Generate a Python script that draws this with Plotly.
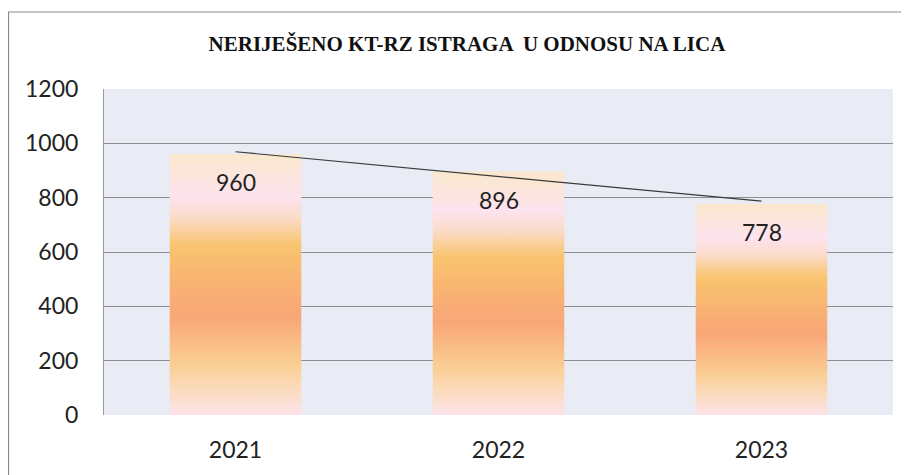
import numpy as np
import plotly.graph_objects as go

title_text = "NERIJEŠENO KT-RZ ISTRAGA  U ODNOSU NA LICA"
years = ["2021", "2022", "2023"]
values = [960, 896, 778]
y_ticks = [0, 200, 400, 600, 800, 1000, 1200]

# page has an 8px body margin, so figure is 8px smaller than the window
W, H = 901, 467
ML, MR, MT, MB = 96, 16, 81, 60
pw, ph = W - ML - MR, H - MT - MB

grad = [
    [0.0, "#FDE3EA"],
    [0.12, "#FBD9B4"],
    [0.2, "#FACD92"],
    [0.38, "#F9A677"],
    [0.52, "#F9B472"],
    [0.65, "#F9C46F"],
    [0.76, "#FBDCCB"],
    [0.84, "#FDE3EE"],
    [1.0, "#FAE8CC"],
]

fig = go.Figure()
xs = np.arange(len(years))
bw = 0.5
for i, v in zip(xs, values):
    fig.add_trace(go.Scatter(
        x=[i - bw / 2, i + bw / 2, i + bw / 2, i - bw / 2, i - bw / 2],
        y=[0, 0, v, v, 0],
        mode="lines", fill="toself",
        line=dict(width=0, color="rgba(0,0,0,0)"),
        fillgradient=dict(type="vertical", colorscale=grad),
        hoverinfo="skip", showlegend=False,
    ))

coef = np.polyfit(xs, values, 1)
trend = np.polyval(coef, xs)
fig.add_trace(go.Scatter(x=xs, y=trend, mode="lines",
                         line=dict(color="#3a3a3a", width=1.2),
                         hoverinfo="skip", showlegend=False))

for i, v in zip(xs, values):
    fig.add_annotation(x=i, y=v, text=str(v), showarrow=False,
                       yanchor="middle", yshift=-28,
                       font=dict(family="Lato", size=23, color="#222222"))

fig.update_layout(
    width=W, height=H,
    margin=dict(l=ML, r=MR, t=MT, b=MB),
    paper_bgcolor="white", plot_bgcolor="#E9EBF5",
    title=dict(text=f"<b>{title_text}</b>", x=459 / W, xanchor="center",
               y=1 - 36 / H, yanchor="middle",
               font=dict(family="Liberation Serif", size=21, color="#111111")),
    xaxis=dict(range=[-0.5, 2.5], tickvals=list(xs), ticktext=years,
               showgrid=False, zeroline=False, showline=False,
               ticks="outside", ticklen=14, tickcolor="rgba(0,0,0,0)",
               tickfont=dict(family="Lato", size=23, color="#222222")),
    yaxis=dict(range=[0, 1200], tickvals=y_ticks,
               showgrid=True, gridcolor="#8E8E8E", gridwidth=1.3,
               zeroline=False, showline=True, linecolor="#9A9A9A", linewidth=1,
               ticks="outside", ticklen=20, tickcolor="rgba(0,0,0,0)",
               tickfont=dict(family="Lato", size=23, color="#222222")),
    shapes=[
        dict(type="line", xref="paper", yref="paper",
             x0=(0.5 - ML) / pw, x1=(0.5 - ML) / pw,
             y0=(H - MB - 4) / ph, y1=(H - MB - H - 5) / ph,
             line=dict(color="#8A8A8A", width=1.2)),
        dict(type="line", xref="paper", yref="paper",
             x0=(0 - ML) / pw, x1=(W + 5 - ML) / pw,
             y0=(H - MB - 4) / ph, y1=(H - MB - 4) / ph,
             line=dict(color="#8A8A8A", width=1.2)),
    ],
)

fig.write_html("out.html")
